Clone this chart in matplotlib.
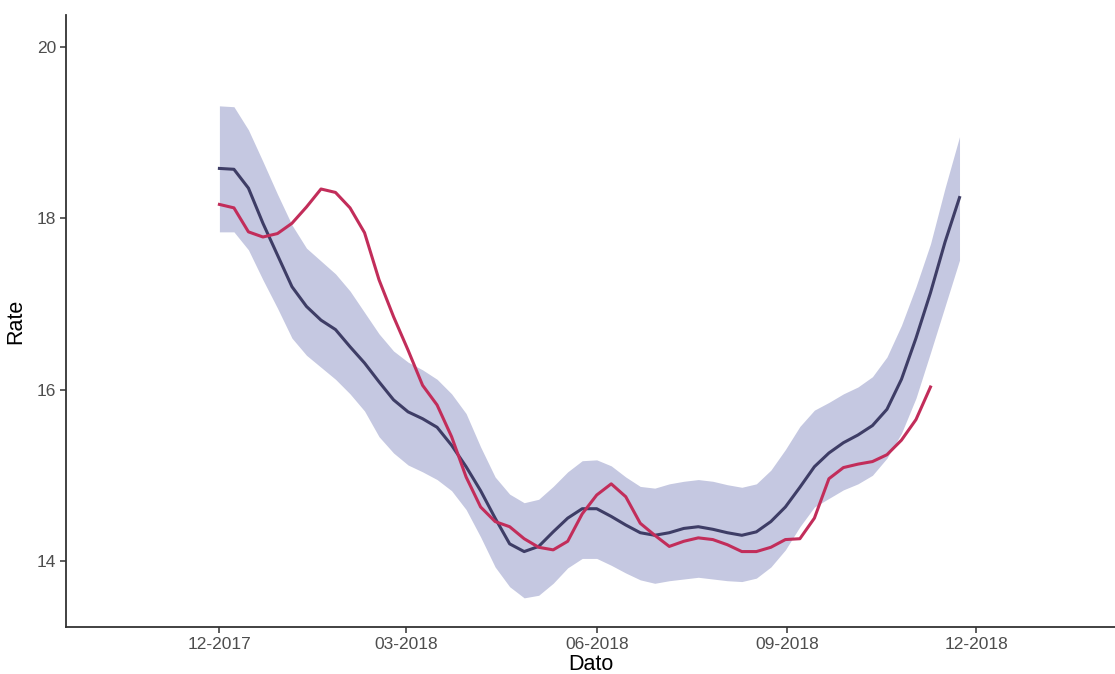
import matplotlib
matplotlib.use("Agg")
import matplotlib.pyplot as plt
import matplotlib.dates as mdates
import numpy as np
import pandas as pd

plt.rcParams['font.family'] = ['Liberation Sans', 'DejaVu Sans']

# weekly dates
start = pd.Timestamp("2017-12-01")
dates_mean = pd.date_range(start, periods=52, freq="7D")
dates_obs = pd.date_range(start, periods=50, freq="7D")

mean_rate = [18.58, 18.57, 18.35, 17.94, 17.57, 17.20, 16.97, 16.81, 16.70, 16.50,
             16.31, 16.09, 15.88, 15.74, 15.66, 15.56, 15.35, 15.10, 14.82, 14.50,
             14.20, 14.11, 14.17, 14.34, 14.50, 14.61, 14.61, 14.52, 14.42, 14.33,
             14.30, 14.33, 14.38, 14.40, 14.37, 14.33, 14.30, 14.34, 14.46, 14.63,
             14.86, 15.10, 15.26, 15.38, 15.47, 15.58, 15.77, 16.12, 16.60, 17.13,
             17.72, 18.24]

upper_rate = [19.31, 19.30, 19.03, 18.66, 18.28, 17.92, 17.65, 17.50, 17.35, 17.15,
              16.90, 16.65, 16.45, 16.32, 16.23, 16.12, 15.95, 15.72, 15.33, 14.98,
              14.78, 14.68, 14.72, 14.87, 15.04, 15.17, 15.18, 15.11, 14.98, 14.87,
              14.85, 14.90, 14.93, 14.95, 14.93, 14.89, 14.86, 14.90, 15.06, 15.30,
              15.57, 15.76, 15.85, 15.95, 16.03, 16.15, 16.38, 16.75, 17.20, 17.70,
              18.35, 18.95]

lower_rate = [17.84, 17.84, 17.63, 17.28, 16.95, 16.60, 16.40, 16.26, 16.12, 15.95,
              15.75, 15.45, 15.26, 15.12, 15.04, 14.95, 14.82, 14.60, 14.28, 13.93,
              13.70, 13.57, 13.60, 13.74, 13.92, 14.03, 14.03, 13.95, 13.86, 13.78,
              13.74, 13.77, 13.79, 13.81, 13.79, 13.77, 13.76, 13.80, 13.93, 14.13,
              14.40, 14.63, 14.73, 14.83, 14.90, 15.00, 15.20, 15.49, 15.90, 16.43,
              16.97, 17.51]

obs_rate = [18.16, 18.12, 17.84, 17.78, 17.82, 17.94, 18.13, 18.34, 18.30, 18.12,
            17.83, 17.28, 16.85, 16.46, 16.05, 15.82, 15.45, 14.98, 14.63, 14.46,
            14.40, 14.26, 14.16, 14.13, 14.23, 14.55, 14.77, 14.90, 14.75, 14.44,
            14.30, 14.17, 14.23, 14.27, 14.25, 14.19, 14.11, 14.11, 14.16, 14.25,
            14.26, 14.50, 14.96, 15.09, 15.13, 15.16, 15.24, 15.41, 15.65, 16.03]

y_ticks = [14, 16, 18, 20]
x_tick_dates = pd.to_datetime(["2017-12-01", "2018-03-01", "2018-06-01",
                               "2018-09-01", "2018-12-01"])
x_tick_labels = ["12-2017", "03-2018", "06-2018", "09-2018", "12-2018"]

fig = plt.figure(figsize=(11.15, 6.74), dpi=100)
ax = fig.add_axes([66/1115, 47/674, 1 - 66/1115, (627-15)/674])

ax.fill_between(dates_mean, lower_rate, upper_rate, color="#c5c8e1", linewidth=0)
ax.plot(dates_mean, mean_rate, color="#3e3d66", linewidth=2.2, solid_joinstyle="round")
ax.plot(dates_obs, obs_rate, color="#c22d5a", linewidth=2.2, solid_joinstyle="round")

ax.set_xlim(pd.Timestamp("2017-09-18"), pd.Timestamp("2019-02-06"))
ax.set_ylim(13.23, 20.37)
ax.set_yticks(y_ticks)
ax.set_xticks(x_tick_dates)
ax.set_xticklabels(x_tick_labels)

for s in ["top", "right"]:
    ax.spines[s].set_visible(False)
for s in ["left", "bottom"]:
    ax.spines[s].set_color("#333333")
    ax.spines[s].set_linewidth(1.3)

ax.tick_params(axis="both", colors="#333333", length=4, width=1.1,
               labelsize=12.5, labelcolor="#4d4d4d", pad=3)

ax.set_xlabel("Dato", fontsize=15.5, color="black", labelpad=2)
ax.set_ylabel("Rate", fontsize=15.5, color="black", labelpad=8)

fig.savefig("out.png", dpi=100)
